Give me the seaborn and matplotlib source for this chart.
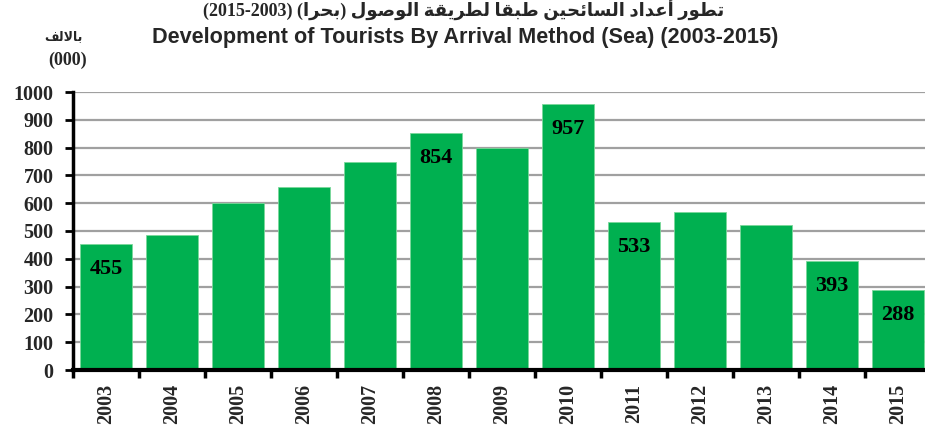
import matplotlib
matplotlib.use("Agg")
import matplotlib.pyplot as plt
import seaborn as sns
import pandas as pd

years = ["2003", "2004", "2005", "2006", "2007", "2008", "2009",
         "2010", "2011", "2012", "2013", "2014", "2015"]
tourists = [455, 485, 600, 658, 747, 854, 800, 957, 533, 570, 522, 393, 288]
labeled_years = ["2003", "2008", "2010", "2011", "2014", "2015"]

title_en = "Development of Tourists By Arrival Method (Sea) (2003-2015)"
title_ar_words = ["تطور", "أعداد", "السائحين", "طبقا", "لطريقة", "الوصول"]
title_ar_paren = "بحرا"
unit_ar = "بالالف"
unit_num = "(000)"

# --- minimal Arabic shaping (presentation forms, visual order) ---
FORMS = {
    'ا': ('\uFE8D', '\uFE8E', None, None),
    'أ': ('\uFE83', '\uFE84', None, None),
    'ب': ('\uFE8F', '\uFE90', '\uFE91', '\uFE92'),
    'ة': ('\uFE93', '\uFE94', None, None),
    'ت': ('\uFE95', '\uFE96', '\uFE97', '\uFE98'),
    'ح': ('\uFEA1', '\uFEA2', '\uFEA3', '\uFEA4'),
    'د': ('\uFEA9', '\uFEAA', None, None),
    'ر': ('\uFEAD', '\uFEAE', None, None),
    'س': ('\uFEB1', '\uFEB2', '\uFEB3', '\uFEB4'),
    'ص': ('\uFEB9', '\uFEBA', '\uFEBB', '\uFEBC'),
    'ط': ('\uFEC1', '\uFEC2', '\uFEC3', '\uFEC4'),
    'ع': ('\uFEC9', '\uFECA', '\uFECB', '\uFECC'),
    'ف': ('\uFED1', '\uFED2', '\uFED3', '\uFED4'),
    'ق': ('\uFED5', '\uFED6', '\uFED7', '\uFED8'),
    'ل': ('\uFEDD', '\uFEDE', '\uFEDF', '\uFEE0'),
    'ن': ('\uFEE5', '\uFEE6', '\uFEE7', '\uFEE8'),
    'و': ('\uFEED', '\uFEEE', None, None),
    'ي': ('\uFEF1', '\uFEF2', '\uFEF3', '\uFEF4'),
    'ئ': ('\uFE89', '\uFE8A', '\uFE8B', '\uFE8C'),
}
LAMALEF = {'ا': ('\uFEFB', '\uFEFC'), 'أ': ('\uFEF7', '\uFEF8')}


def shape(word):
    chars = list(word)
    units = []
    i = 0
    while i < len(chars):
        c = chars[i]
        if c == 'ل' and i + 1 < len(chars) and chars[i + 1] in LAMALEF:
            units.append(('LA', chars[i + 1]))
            i += 2
        else:
            units.append(('C', c))
            i += 1

    def joins_next(u):
        if u[0] == 'LA':
            return False
        return FORMS[u[1]][2] is not None

    out = []
    for k, u in enumerate(units):
        prev = k > 0 and joins_next(units[k - 1])
        if u[0] == 'LA':
            out.append(LAMALEF[u[1]][1 if prev else 0])
            continue
        f = FORMS[u[1]]
        nxt = k + 1 < len(units) and f[2] is not None
        if prev and nxt:
            g = f[3]
        elif prev:
            g = f[1]
        elif nxt:
            g = f[2]
        else:
            g = f[0]
        out.append(g)
    return ''.join(reversed(out))


title_ar = "(2015-2003) (" + shape(title_ar_paren) + ") " + " ".join(
    shape(w) for w in reversed(title_ar_words))

sns.set_theme(style="white")
plt.rcParams['font.family'] = ['Liberation Serif', 'DejaVu Sans']

df = pd.DataFrame({"year": years, "tourists": tourists})

W, H = 925, 432
fig = plt.figure(figsize=(W / 100, H / 100), dpi=100)
ax = fig.add_axes([73 / W, (H - 370) / H, 858 / W, 278 / H])

sns.barplot(data=df, x="year", y="tourists", color="#00B050", saturation=1,
            width=0.8, ax=ax, edgecolor="#7BD89A", linewidth=0.6)

ax.set_ylim(0, 1000)
ax.set_xlim(-0.5, len(years) - 0.5)
ax.set_yticks(range(0, 1001, 100))
ax.yaxis.grid(True, color="#A0A0A0", linewidth=1.6)
ax.xaxis.grid(False)
ax.set_axisbelow(True)

# x: tick marks at category boundaries, labels at centres
ax.set_xticks([i - 0.5 for i in range(len(years) + 1)])
ax.set_xticklabels([])
ax.set_xticks(range(len(years)), minor=True)
ax.set_xticklabels(years, minor=True, rotation=90, fontsize=14.5,
                   fontweight="bold", family="Liberation Serif")
ax.tick_params(axis="x", which="major", direction="out", length=6, width=2.5,
               color="black", bottom=True)
ax.tick_params(axis="x", which="minor", length=0, pad=10, bottom=True)

ax.set_yticklabels([str(v) for v in range(0, 1001, 100)], fontsize=14.5,
                   fontweight="bold", family="Liberation Serif")
ax.tick_params(axis="y", direction="out", length=6, width=2, color="black",
               left=True, pad=8)

for s in ("top", "right"):
    ax.spines[s].set_visible(False)
ax.spines["left"].set_color("black")
ax.spines["left"].set_linewidth(2.5)
ax.spines["bottom"].set_color("black")
ax.spines["bottom"].set_linewidth(3)
ax.set_xlabel("")
ax.set_ylabel("")

for i, (yr, v) in enumerate(zip(years, tourists)):
    if yr in labeled_years:
        ax.annotate(str(v), (i, v), xytext=(0, -18), textcoords="offset points",
                    ha="center", va="center", fontsize=16, fontweight="bold",
                    family="Liberation Serif", color="black")

fig.text(464 / W, (H - 17) / H, title_ar, ha="center", va="baseline",
         fontsize=13, fontweight="bold",
         family=["Liberation Serif", "DejaVu Sans"])
fig.text(465 / W, (H - 38) / H, title_en, ha="center", va="center",
         fontsize=15.6, fontweight="bold", family=["Liberation Sans"])
fig.text(63 / W, (H - 37) / H, shape(unit_ar), ha="center", va="center",
         fontsize=9, fontweight="bold", family=["DejaVu Sans"])
fig.text(68 / W, (H - 60) / H, unit_num, ha="center", va="center",
         fontsize=13, fontweight="bold", family=["Liberation Serif"])

fig.savefig("out.png", dpi=100)
